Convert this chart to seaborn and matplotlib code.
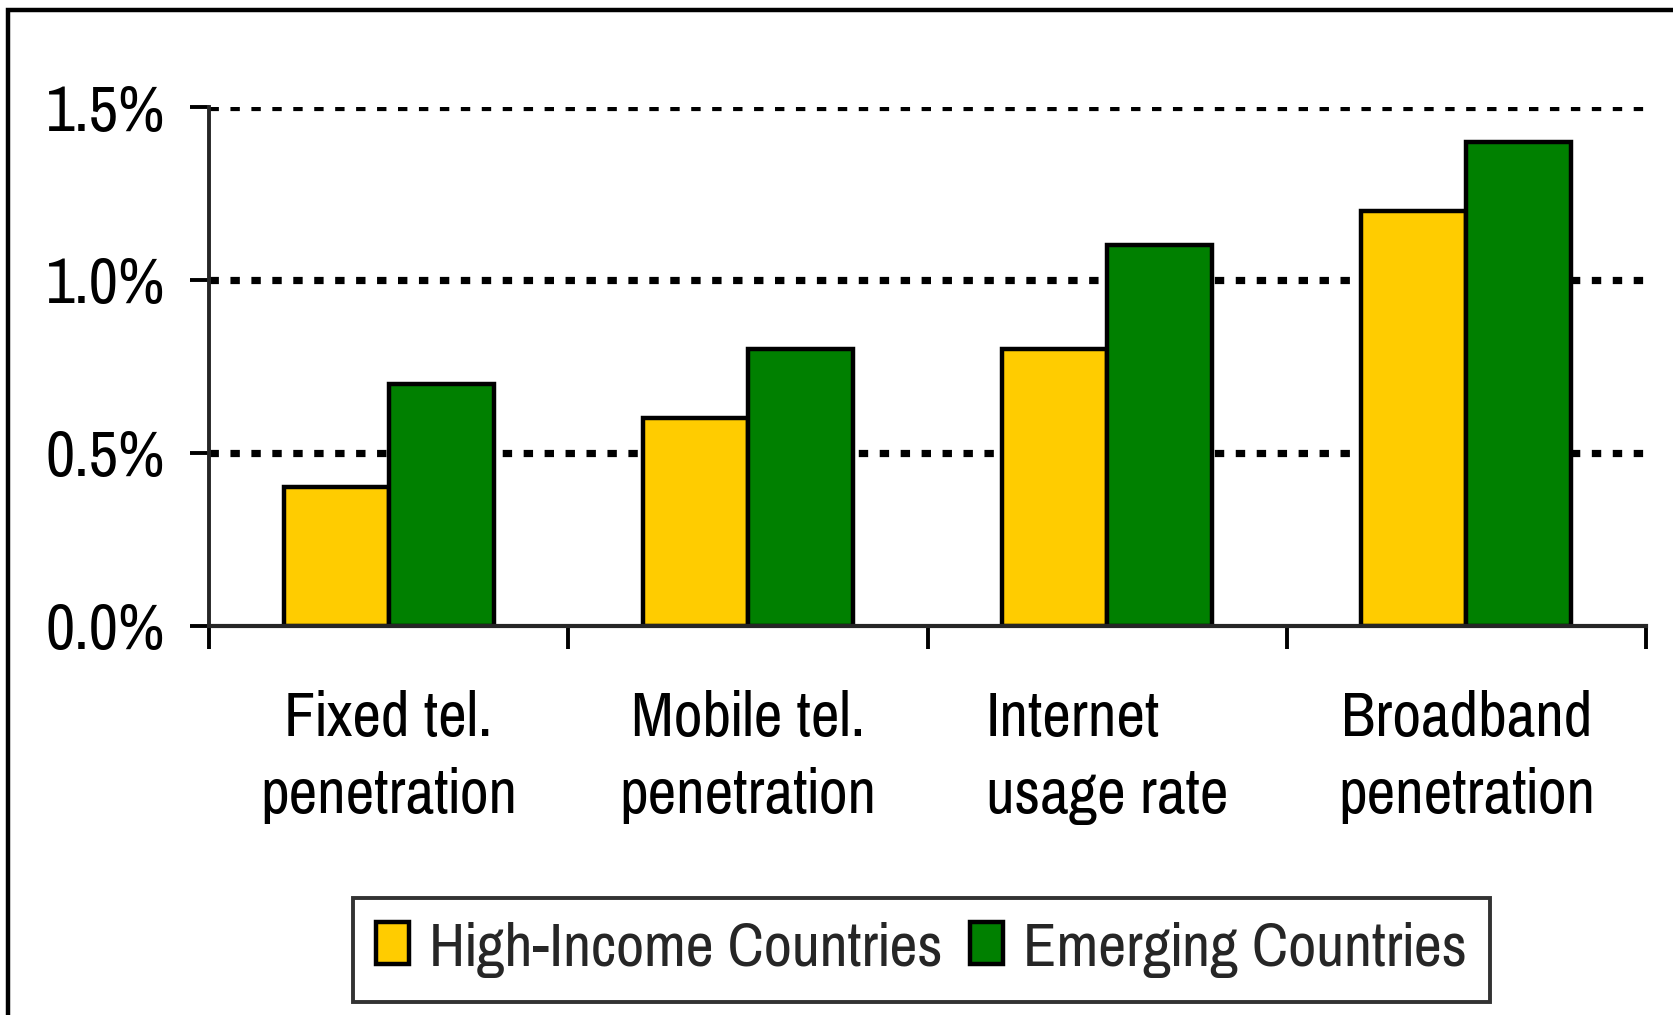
import matplotlib
matplotlib.use("Agg")
import matplotlib.pyplot as plt
from matplotlib import font_manager
from matplotlib.patches import Rectangle
import seaborn as sns
import pandas as pd

categories = ["Fixed tel.\npenetration", "Mobile tel.\npenetration",
              "Internet\nusage rate", "Broadband\npenetration"]
series_names = ["High-Income Countries", "Emerging Countries"]
high_income = [0.4, 0.6, 0.8, 1.2]
emerging = [0.7, 0.8, 1.1, 1.4]
y_ticks = [0.0, 0.5, 1.0, 1.5]
y_tick_labels = ["0.0%", "0.5%", "1.0%", "1.5%"]
colors = ["#FFCC00", "#008000"]

rows = []
for c, v in zip(categories, high_income):
    rows.append({"cat": c, "series": series_names[0], "val": v})
for c, v in zip(categories, emerging):
    rows.append({"cat": c, "series": series_names[1], "val": v})
df = pd.DataFrame(rows)

sns.set_style("white")
names = {f.name for f in font_manager.fontManager.ttflist}
fam = "Liberation Sans"
for cand in ["Liberation Sans Narrow", "Arial Narrow", "Pragati Narrow",
             "Roboto Condensed", "Archivo Narrow"]:
    if cand in names:
        fam = cand
        break
plt.rcParams["font.family"] = [fam, "DejaVu Sans"]

W, H = 1673, 1015
fig = plt.figure(figsize=(W / 100, H / 100), dpi=100)
ax = fig.add_axes([209 / W, 1 - 625.7 / H, (1646 - 209) / W, (625.7 - 107) / H])

sns.barplot(data=df, x="cat", y="val", hue="series", order=categories,
            hue_order=series_names, palette=colors, width=0.585, gap=0,
            edgecolor="black", linewidth=3.2, saturation=1, ax=ax, zorder=3,
            errorbar=None)
ax.get_legend().remove()

ax.set_xlim(-0.5, len(categories) - 0.5)
ax.set_ylim(0, 1.5)
ax.set_xlabel("")
ax.set_ylabel("")

# grid lines
for yv in y_ticks[1:]:
    ax.axhline(yv, color="black", lw=5.2, dashes=(1.3, 1.6), zorder=1)

# spines
for s in ["top", "right"]:
    ax.spines[s].set_visible(False)
ax.spines["left"].set_linewidth(2.8)
ax.spines["bottom"].set_linewidth(3.0)
ax.spines["left"].set_zorder(4)
ax.spines["bottom"].set_zorder(4)

ax.set_yticks(y_ticks)
ax.set_yticklabels(y_tick_labels)
ax.tick_params(axis="y", direction="out", length=13.7, width=2.8, pad=18,
               labelsize=50, left=True, color="black", labelcolor="black")

ax.set_xticks([i - 0.5 for i in range(len(categories) + 1)])
ax.set_xticklabels([""] * (len(categories) + 1))
ax.set_xticks(list(range(len(categories))), minor=True)
ax.set_xticklabels(categories, minor=True)
ax.tick_params(axis="x", which="major", direction="out", length=16.5,
               width=2.8, bottom=True, color="black")
ax.tick_params(axis="x", which="minor", length=0, pad=46, labelsize=49,
               labelcolor="black")
for t in ax.get_xticklabels(minor=True):
    t.set_linespacing(1.45)
    t.set_multialignment("center")
ax.get_xticklabels(minor=True)[2].set_multialignment("left")

handles, labels = ax.get_legend_handles_labels()
leg = fig.legend(handles, labels, loc="center",
                 bbox_to_anchor=((359 + 1484) / 2 / W, 1 - 950 / H),
                 bbox_transform=fig.transFigure, ncol=2, fontsize=48,
                 frameon=True, fancybox=False, edgecolor="black",
                 handlelength=0.5, handleheight=0.6, handletextpad=0.3,
                 columnspacing=0.4, borderpad=0.35, borderaxespad=0)
leg.get_frame().set_linewidth(2.8)

# outer frame of the figure
fig.patches.append(Rectangle((8 / W, -0.1), 1.2, 1 - 10 / H + 0.1,
                             transform=fig.transFigure, fill=False,
                             edgecolor="black", lw=3.2))

fig.savefig("out.png", dpi=100)
